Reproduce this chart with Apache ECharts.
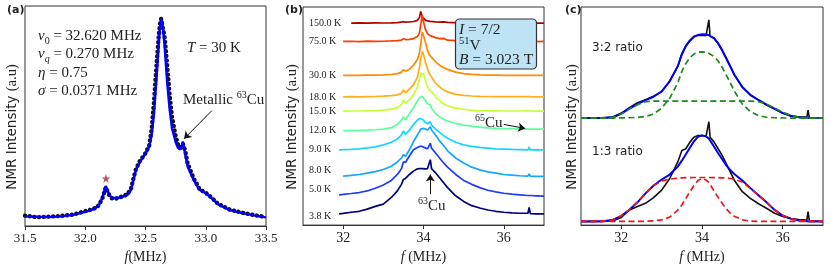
<!DOCTYPE html>
<html><head><meta charset="utf-8">
<script src="https://cdn.jsdelivr.net/npm/echarts@6/dist/echarts.min.js"></script>
<style>html,body{margin:0;padding:0;background:#fff}#c{width:831px;height:269px}</style>
</head><body><div id="c"></div>
<script>
// ---------------- Panel (a) : 63Cu NMR spectrum at 30 K ----------------
const F_A = [31.5,31.6,31.7,31.8,31.9,32.0,32.05,32.1,32.12,32.14,32.16,32.17,32.18,32.2,32.22,32.25,32.3,32.35,32.38,32.4,32.42,32.45,32.5,32.53,32.55,32.57,32.59,32.61,32.62,32.63,32.64,32.66,32.68,32.7,32.72,32.75,32.77,32.79,32.8,32.81,32.83,32.85,32.9,32.95,33.0,33.05,33.1,33.2,33.3,33.4,33.5];
const A_FIT = [9.7,9.3,9,9.7,11.3,14.3,16,19.3,22.7,28,36.3,40.3,38.7,31.3,28.7,28,29,31.3,36.3,46.3,56.3,64,73,79.7,91.3,113,146.3,183,201.3,208.7,206.3,179.7,144.7,118,98.7,84.7,78.7,77.3,80.7,85.3,72,59.7,46.3,36.3,33,28,22,16,13,10.7,8.7];
const A_DATA = [10.5,8.8,9.5,10.2,11.5,15,16.5,19,23,27,35,39,38,31,28,27.5,29.5,32,38,48,57,65,73.5,81,97,125,160,193,204,209,208,190,162,133,110,91,82,79,80,83,76,63,48,37,33.5,28.5,22.5,16.5,13.5,11,9];
const A_STAR = [[32.172, 48]];
const A_ARROW = [[33.05, 116.3], [32.82, 88]];

// ---------------- Panel (b) : 51V spectra vs temperature ----------------
const F_B = [31.9,32.0,32.2,32.4,32.6,32.8,33.0,33.2,33.35,33.45,33.5,33.55,33.65,33.75,33.85,33.9,33.93,33.97,34.0,34.05,34.1,34.14,34.17,34.2,34.3,34.4,34.5,34.6,34.8,35.0,35.2,35.4,35.6,35.8,36.0,36.2,36.4,36.6,36.63,36.66,36.8,37.0];
const T_LABELS = ['150.0 K','75.0 K','30.0 K','18.0 K','15.0 K','12.0 K','9.0 K','8.0 K','5.0 K','3.8 K'];
const T_LABEL_Y = [204.7,186,152,129.7,115.7,96.3,76.3,55.7,36.3,9];
const B_150 = [null,null,204.7,204.9,204.6,204.9,204.8,205.0,205.2,205.6,206.2,205.6,205.8,206.3,207.5,210.5,216.5,211.0,209.0,207.5,206.9,206.6,206.5,206.3,206.0,205.7,205.9,205.4,205.2,205.0,204.9,205.0,204.8,204.8,204.7,204.8,204.7,204.8,205.3,204.7,204.6,204.7];
const B_75 = [null,186.2,186.3,186.0,186.4,186.2,186.3,186.6,187.0,187.5,188.8,188.0,188.2,189.0,191.0,195.0,203.0,213.0,206.0,198.0,194.0,192.5,192.0,191.5,190.0,189.0,189.2,187.4,186.9,186.6,186.4,186.3,186.2,186.2,186.1,186.2,186.1,186.2,186.6,186.1,186.0,186.1];
const B_30 = [null,151.7,151.8,151.7,151.9,152.0,152.2,152.6,153.5,155.0,157.5,156.0,158.0,162.0,168.0,175.0,183.0,195.7,192.0,185.0,177.0,173.0,171.5,170.0,165.5,162.0,159.5,157.8,155.0,153.5,152.8,152.3,152.0,151.9,151.8,151.7,151.7,151.8,152.6,151.8,151.7,151.7];
const B_18 = [null,130.0,130.1,130.0,130.2,130.3,130.6,131.2,132.0,133.5,137.0,134.0,138.0,142.0,150.0,160.0,168.0,176.0,173.0,165.0,158.0,154.0,152.0,150.0,144.0,140.0,137.0,135.0,132.5,131.5,130.8,130.4,130.3,130.2,130.2,130.1,130.1,130.2,131.5,130.1,130.0,130.0];
const B_15 = [null,115.5,115.6,115.6,115.8,116.0,116.5,117.5,119.0,122.0,126.3,124.0,127.0,132.0,140.0,148.0,154.0,156.0,153.0,146.0,140.0,137.0,138.0,135.0,130.0,126.0,123.0,121.0,118.5,117.2,116.4,116.0,115.8,115.7,115.6,115.6,115.6,115.7,117.0,115.6,115.5,115.5];
const B_12 = [null,95.7,95.8,95.9,96.2,96.6,97.3,98.7,102.0,106.3,109.7,106.5,113.0,119.0,126.0,129.0,131.0,130.5,129.0,126.0,123.0,121.0,122.0,118.5,113.0,109.7,107.3,105.3,103.0,101.3,100.2,99.3,98.6,98.0,97.8,97.7,97.5,97.3,99.0,97.3,97.2,97.2];
const B_9 = [76.3,76.4,76.8,77.3,78.2,79.2,81.3,84.0,87.3,91.3,95.3,92.0,96.3,102.0,106.3,108.0,108.0,107.3,106.0,104.0,102.7,103.0,104.7,101.3,97.3,94.0,90.7,88.0,84.0,81.3,79.7,78.7,78.0,77.3,77.0,76.7,76.5,76.3,79.0,76.3,76.2,76.2];
const B_8 = [null,49.7,50.3,51.3,52.6,54.2,56.3,59.7,64.0,68.0,71.3,69.7,76.3,84.7,91.3,94.7,97.3,98.7,98.0,97.3,96.3,96.7,99.7,96.3,91.3,85.3,80.7,75.3,68.0,63.0,58.7,56.0,54.0,52.7,51.3,50.7,50.0,49.7,52.0,49.7,49.3,49.3];
const B_5 = [30.7,31.1,32.0,33.0,34.6,37.3,40.7,45.3,51.3,57.0,64.0,63.5,70.0,76.3,78.7,79.7,80.0,79.7,79.0,78.0,77.3,78.7,83.0,78.0,73.0,68.0,63.0,58.7,51.3,45.3,41.3,38.0,35.3,33.7,32.3,31.3,30.7,30.0,32.0,30.0,29.7,29.3];
const B_38 = [11.3,11.8,13.0,14.0,16.2,19.0,21.3,28.0,34.7,41.3,46.3,47.3,51.3,54.7,57.0,57.3,58.0,57.3,58.0,57.0,57.3,58.7,66.3,57.3,53.0,48.0,43.0,38.0,29.7,24.0,19.7,17.3,15.3,14.0,13.0,12.3,12.0,12.0,18.0,11.7,11.3,11.3];
const B_CURVES = [B_150,B_75,B_30,B_18,B_15,B_12,B_9,B_8,B_5,B_38];
const B_COLORS = ['#b00000','#ff3c00','#ff8a00','#ffad1a','#c6ff33','#5cff9c','#14d6ff','#12a6ff','#1e3cff','#00007f'];
const B_ARROW65 = [[36.0, 102], [36.53, 98]];
const B_ARROW63 = [[34.17, 31.3], [34.17, 51.3]];
const BC_TICKS = [32, 34, 36];

// ---------------- Panel (c) : two-component fits ----------------
const F_C = [31.0,31.5,31.8,32.0,32.2,32.4,32.6,32.8,33.0,33.2,33.4,33.5,33.6,33.7,33.8,33.9,34.0,34.1,34.14,34.17,34.2,34.3,34.4,34.5,34.6,34.7,34.8,35.0,35.2,35.4,35.6,35.8,36.0,36.2,36.4,36.6,36.63,36.66,37.0];
const C_DATA_U = [108.3,107.8,109.2,113,118.5,123.5,126.5,130,134.5,145.5,160,173,181,186.5,190.5,191.3,191.6,191,192.5,207,190.6,188.8,183,176,168,160.5,151.5,139.5,131,126,121,117,113,110,109,109,116,108.3,108];
const C_FIT_U = [108,108,108.8,112.5,117.5,122,126,129.5,135,145,160.5,172,180.5,186,189.8,191.8,192.5,192.2,191.8,191.5,191.1,188.3,183.5,176.5,168.5,160,152,139,131.5,126.2,121.5,117.5,113,110.3,108.8,108.2,108.1,108,108];
const C_NARROW_U = [108,108,108,108.1,108.3,108.7,109.6,112,118,128,143.5,155,163,169,172.5,174.3,174.7,174.3,173.8,173.3,172.8,170,165.5,159,151.5,143.5,135.5,122,114.5,110.5,108.8,108.3,108.1,108,108,108,108,108,108];
const C_BROAD_U = [108,108,109,112,117,121.5,124.5,125,125,125,125,125,125,125,125,125,125,125,125,125,125,125,125,125,125,125,125,125,125,124.5,122,118,114,110.5,109,108.3,108.2,108.1,108];
const C_DATA_L = [3.7,4,4.5,7.7,15.3,18.7,22,27.7,35.3,47,63.7,75.3,77,83.7,88.7,90.3,90.3,89.5,90,104.3,88.7,83.7,77,70.3,62,53.7,45.3,33.7,27,21.5,17,12,8.7,6.7,5.7,5,13.7,4.7,3.7];
const C_FIT_L = [3.7,3.7,5.5,9.3,15.5,23,32,40,46,51,59,65,71.5,78,84.5,89,90.5,89.5,88.3,87.3,86,79,72.5,66.5,60.5,55.5,51.5,45,37.3,30,23,15.3,9.7,6.5,4.7,4,3.8,3.7,3.7];
const C_BROAD_L = [3.7,3.7,5.5,9.3,15.5,23,32,40,44.5,46.3,47.4,47.7,47.8,47.9,48,48,48,48,48,48,48,47.9,47.8,47.7,47.5,47,46.3,43.5,37,30,23,15.3,9.7,6.5,4.7,4,3.8,3.7,3.7];
const C_NARROW_L = [3.7,3.7,3.7,3.7,3.7,3.7,3.8,4.3,5.3,8,15,20.3,27,33.7,40,45,47,45.5,44,43,41.5,34.3,28,22,16.5,12,9,5.3,4,3.7,3.7,3.7,3.7,3.7,3.7,3.7,3.7,3.7,3.7];

// ---------------- rendering ----------------
const SERIF = "'Liberation Serif','DejaVu Serif',serif";
const SANS = "'DejaVu Sans','Noto Sans',sans-serif";
const INK = '#222';
function zip(xs, ys) { const out = []; xs.forEach((x, i) => { if (ys[i] != null) out.push([x, ys[i]]); }); return out; }

const nameRich = {
  i: {fontFamily: SERIF, fontStyle: 'italic', fontSize: 14, color: INK},
  n: {fontFamily: SERIF, fontSize: 14, color: INK}
};
function xAxis(gi, min, max, extra) {
  return Object.assign({
    gridIndex: gi, type: 'value', min: min, max: max,
    splitLine: {show: false},
    axisLine: {show: true, onZero: false, lineStyle: {color: '#333', width: 1}},
    axisTick: {show: true, length: 4, lineStyle: {color: '#333'}},
    axisLabel: {fontFamily: SERIF, fontSize: 14, color: INK, margin: 6},
    nameLocation: 'middle', nameGap: 24,
    nameTextStyle: {fontFamily: SERIF, fontSize: 14, color: INK, rich: nameRich}
  }, extra);
}
function yAxis(gi, max) { return {gridIndex: gi, type: 'value', min: 0, max: max, show: false}; }
function arrowLine(pts) {
  return {silent: true, animation: false, symbol: ['none', 'arrow'], symbolSize: 7,
    lineStyle: {color: '#111', width: 1, type: 'solid'}, label: {show: false},
    emphasis: {disabled: true},
    data: [[{coord: pts[0]}, {coord: pts[1]}]]};
}

const series = [];
// (a)
series.push({type: 'line', xAxisIndex: 0, yAxisIndex: 0, data: zip(F_A, A_DATA), symbol: 'none', z: 2,
  lineStyle: {color: '#111', width: 4.4, type: [0.1, 4.6], cap: 'round'}});
series.push({type: 'line', xAxisIndex: 0, yAxisIndex: 0, data: zip(F_A, A_FIT), symbol: 'none', z: 3,
  lineStyle: {color: '#0000ff', width: 2.4}, markLine: arrowLine(A_ARROW)});
series.push({type: 'scatter', xAxisIndex: 0, yAxisIndex: 0, data: A_STAR, z: 4,
  symbol: 'path://M50,0 L61,35 L98,35 L68,57 L79,91 L50,70 L21,91 L32,57 L2,35 L39,35 Z',
  symbolSize: 9, itemStyle: {color: '#a52a2a'}});
// (b)
B_CURVES.forEach((vals, k) => {
  series.push({type: 'line', xAxisIndex: 1, yAxisIndex: 1, data: zip(F_B, vals), symbol: 'none', z: 2 + k * 0.01,
    lineStyle: {color: B_COLORS[k], width: 1.7}});
});
series.push({type: 'line', xAxisIndex: 1, yAxisIndex: 1, data: [], symbol: 'none', markLine: arrowLine(B_ARROW65)});
series.push({type: 'line', xAxisIndex: 1, yAxisIndex: 1, data: [], symbol: 'none', markLine: arrowLine(B_ARROW63)});
// (c)
const cLines = [
  [C_DATA_U, '#111', 'solid', 1.6], [C_DATA_L, '#111', 'solid', 1.6],
  [C_FIT_U, '#0000ff', 'solid', 2.0], [C_FIT_L, '#0000ff', 'solid', 2.0],
  [C_NARROW_U, '#1a8a1a', [6, 3.5], 1.7], [C_BROAD_U, '#1a8a1a', [6, 3.5], 1.7],
  [C_BROAD_L, '#f01414', [6, 3.5], 1.7], [C_NARROW_L, '#f01414', [6, 3.5], 1.7]
];
cLines.forEach((c, k) => series.push({type: 'line', xAxisIndex: 2, yAxisIndex: 2, data: zip(F_C, c[0]), symbol: 'none', z: 2 + k * 0.01,
  lineStyle: {color: c[1], type: c[2], width: c[3]}}));

const gridStyle = {show: true, borderColor: '#333', borderWidth: 1, backgroundColor: 'transparent'};
const option = {
  animation: false,
  backgroundColor: '#fff',
  grid: [
    Object.assign({left: 25, top: 6, width: 241, height: 222}, gridStyle),
    Object.assign({left: 303, top: 7, width: 241, height: 221}, gridStyle),
    Object.assign({left: 581, top: 7, width: 242, height: 220}, gridStyle)
  ],
  xAxis: [
    xAxis(0, 31.5, 33.5, {interval: 0.5, name: '{i|f}{n|(MHz)}',
      axisLabel: {fontFamily: SERIF, fontSize: 13, color: INK, margin: 6, formatter: v => v.toFixed(1)}}),
    xAxis(1, 31, 37, {name: '{i|f} {n|(MHz)}',
      axisLabel: {fontFamily: SERIF, fontSize: 14, color: INK, margin: 6, customValues: BC_TICKS},
      axisTick: {show: true, length: 4, lineStyle: {color: '#333'}, customValues: BC_TICKS}}),
    xAxis(2, 31, 37, {name: '{i|f} {n|(MHz)}',
      axisLabel: {fontFamily: SERIF, fontSize: 14, color: INK, margin: 6, customValues: BC_TICKS},
      axisTick: {show: true, length: 4, lineStyle: {color: '#333'}, customValues: BC_TICKS}})
  ],
  yAxis: [yAxis(0, 222), yAxis(1, 221), yAxis(2, 220)],
  series: series
};

const chart = echarts.init(document.getElementById('c'), null, {renderer: 'canvas', width: 831, height: 269});
chart.setOption(option);

// ---------- annotations ----------
function mkRich(big, small) {
  return {
    n: {fontFamily: SERIF, fontSize: big, fill: INK, color: INK, lineHeight: big + 5},
    i: {fontFamily: SERIF, fontStyle: 'italic', fontSize: big, fill: INK, color: INK, lineHeight: big + 5},
    sub: {fontFamily: SERIF, fontSize: small, fill: INK, color: INK, lineHeight: small, verticalAlign: 'bottom'},
    subi: {fontFamily: SERIF, fontStyle: 'italic', fontSize: small, fill: INK, color: INK, lineHeight: small, verticalAlign: 'bottom'},
    sup: {fontFamily: SERIF, fontSize: small, fill: INK, color: INK, lineHeight: small, verticalAlign: 'top'},
    s: {fontFamily: SANS, fontSize: 13.5, fill: INK, color: INK},
    sn: {fontFamily: SERIF, fontSize: 14.5, fill: INK, color: INK}
  };
}
const rich = mkRich(15, 10);
const richBox = mkRich(15.5, 10.5);
function T(x, y, text, extra) {
  return Object.assign({type: 'text', x: x, y: y, z: 100, silent: true,
    style: Object.assign({text: text, x: 0, y: 0, fill: INK, fontFamily: SERIF, fontSize: 15,
      align: 'left', verticalAlign: 'middle', textAlign: 'left', textVerticalAlign: 'middle', rich: rich},
      extra && extra.style)}, extra && extra.el);
}
function yLabel(x, y) {
  return T(x, y, '{s|NMR Intensity }{sn|(a.u)}', {el: {rotation: Math.PI / 2},
    style: {align: 'center', textAlign: 'center'}});
}
const g = [];
g.push(T(7, 10, '(a)', {style: {fontFamily: SANS, fontWeight: 'bold', fontSize: 11, rich: null}}));
g.push(T(285, 10, '(b)', {style: {fontFamily: SANS, fontWeight: 'bold', fontSize: 11, rich: null}}));
g.push(T(565, 10, '(c)', {style: {fontFamily: SANS, fontWeight: 'bold', fontSize: 11, rich: null}}));
g.push(yLabel(12, 127)); g.push(yLabel(292, 127)); g.push(yLabel(572, 127));
// panel (a) texts
g.push(T(38, 36, '{i|ν}{sub|0}{n| = 32.620 MHz}'));
g.push(T(38, 54, '{i|ν}{subi|q}{n| = 0.270 MHz}'));
g.push(T(38, 73, '{i|η}{n| = 0.75}'));
g.push(T(38, 91, '{i|σ}{n| = 0.0371 MHz}'));
g.push(T(187, 48, '{i|T}{n| = 30 K}'));
g.push(T(183, 100, '{n|Metallic }{sup|63}{n|Cu}'));
// panel (b) box
g.push({type: 'rect', z: 95, silent: true, shape: {x: 455.5, y: 19, width: 81, height: 50, r: 4},
  style: {fill: '#bde3f5', stroke: '#333', lineWidth: 1.2}});
g.push(T(459, 30, '{i|I}{n| = 7/2}', {style: {rich: richBox}}));
g.push(T(459, 45.5, '{sup|51}{n|V}', {style: {rich: richBox}}));
g.push(T(459, 60, '{i|B}{n| = 3.023 T}', {style: {rich: richBox}}));
g.push(T(475, 123, '{sup|65}{n|Cu}'));
g.push(T(418, 206, '{sup|63}{n|Cu}'));
// panel (c) texts
g.push(T(592, 48, '3:2 ratio', {style: {fontFamily: SANS, fontSize: 12, rich: null}}));
g.push(T(592, 152, '1:3 ratio', {style: {fontFamily: SANS, fontSize: 12, rich: null}}));
// temperature labels in (b)
T_LABELS.forEach((lab, k) => {
  const p = chart.convertToPixel({gridIndex: 1}, [31, T_LABEL_Y[k]]);
  g.push(T(309, p[1], lab, {style: {fontSize: 10, rich: null}}));
});
chart.setOption({graphic: {elements: g}});
</script></body></html>
